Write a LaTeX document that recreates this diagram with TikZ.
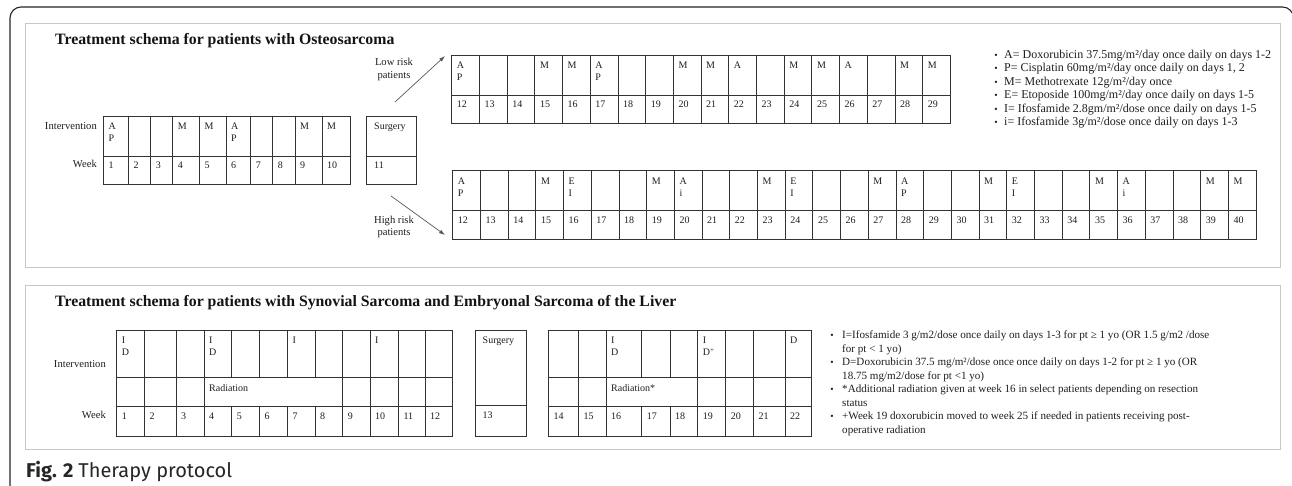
\documentclass[tikz,border=0pt]{standalone}
\usepackage{fontspec}
\setmainfont{Liberation Serif}
\newfontfamily\capfont{Fira Sans}
\usetikzlibrary{arrows.meta}
\tikzset{
  grid/.style={draw=black!80, line width=0.8pt},
  celltext/.style={anchor=north west, inner sep=0pt, align=left, text=black!88, font=\fontsize{10}{12}\selectfont},
  sidelabel/.style={anchor=east, inner sep=0pt, text=black!88, font=\fontsize{10.6}{12.5}\selectfont},
  risklabel/.style={inner sep=0pt, align=center, text=black!88, font=\fontsize{10.6}{12.7}\selectfont},
  panel/.style={draw=black!22, line width=0.9pt},
  frame/.style={draw=black!85, line width=1.1pt, rounded corners=11pt},
  titletext/.style={anchor=base west, inner sep=0pt, text=black!92, font=\bfseries\fontsize{15.8}{19}\selectfont},
  legtext/.style={anchor=base west, inner sep=0pt, text=black!88, font=\fontsize{12}{13.5}\selectfont},
  legtextb/.style={anchor=base west, inner sep=0pt, text=black!88, font=\fontsize{11.1}{13.5}\selectfont},
  legbullet/.style={anchor=base, inner sep=0pt, text=black!88, font=\fontsize{9.5}{10}\selectfont},
  riskarrow/.style={draw=black!65, line width=0.7pt, -{Latex[length=6pt,width=4pt]}},
}
\begin{document}
\begin{tikzpicture}[x=1pt,y=-1pt]
\useasboundingbox (0,0) rectangle (1292,486);
\fill[white] (0,0) rectangle (1292,486);
\draw[frame] (10,7) rectangle (1293.5,530);
\draw[panel] (25,23) rectangle (1280,267);
\draw[panel] (25,285) rectangle (1280,449);

% ---------- Osteosarcoma ----------
\node[titletext] (t1) at (55,44.5) {Treatment schema for patients with Osteosarcoma};

\node[sidelabel] (iv1) at (97,126) {Intervention};
\node[sidelabel] (wk1) at (97,164) {Week};

\draw[grid] (103.3,116) rectangle (350,184);
\draw[grid] (103.3,156) -- (350,156);
\foreach \x in {128.3,150.7,172.7,199.3,226,250.7,272.7,295,322}
  \draw[grid] (\x,116) -- (\x,184);
\foreach \x/\t [count=\i] in {103.3/{A\\P},172.7/M,199.3/M,226/{A\\P},295/M,322/M}
  \node[celltext] (ta\i) at (\x+5,123) {\t};
\foreach \x/\n in {103.3/1,128.3/2,150.7/3,172.7/4,199.3/5,226/6,250.7/7,272.7/8,295/9,322/10}
  \node[celltext] (tw\n) at (\x+5,162) {\n};

\draw[grid] (366,116) rectangle (416,184);
\draw[grid] (366,156) -- (416,156);
\node[celltext] (surg1) at (374,123) {Surgery};
\node[celltext] (w11) at (374,162) {11};

% arrows
\coordinate (lowA) at (395,102);
\coordinate (lowB) at (445,56);
\coordinate (highA) at (391,196);
\coordinate (highB) at (445,235);
\draw[riskarrow] (lowA) -- (lowB);
\draw[riskarrow] (highA) -- (highB);
\node[risklabel] (lowlab) at (394,69.5) {Low risk\\patients};
\node[risklabel] (highlab) at (394,227) {High risk\\patients};

% low risk table
\draw[grid] (451.7,55) rectangle (950.3,123);
\draw[grid] (451.7,95) -- (950.3,95);
\foreach \i in {1,...,17}
  \draw[grid] ({451.7+27.7*\i},55) -- ({451.7+27.7*\i},123);
\foreach \w in {12,...,29}
  \node[celltext] (lw\w) at ({451.7+27.7*(\w-12)+5},101) {\w};
\foreach \w/\t in {12/{A\\P},15/M,16/M,17/{A\\P},20/M,21/M,22/A,24/M,25/M,26/A,28/M,29/M}
  \node[celltext] (li\w) at ({451.7+27.7*(\w-12)+5},62) {\t};

% high risk table
\draw[grid] (452.7,170.7) rectangle (1256,239.3);
\draw[grid] (452.7,210.7) -- (1256,210.7);
\foreach \i in {1,...,28}
  \draw[grid] ({452.7+27.7*\i},170.7) -- ({452.7+27.7*\i},239.3);
\foreach \w in {12,...,40}
  \node[celltext] (hw\w) at ({452.7+27.7*(\w-12)+5},216.7) {\w};
\foreach \w/\t in {12/{A\\P},15/M,16/{E\\I},19/M,20/{A\\i},23/M,24/{E\\I},27/M,28/{A\\P},31/M,32/{E\\I},35/M,36/{A\\i},39/M,40/M}
  \node[celltext] (hi\w) at ({452.7+27.7*(\w-12)+5},177.7) {\t};

% legend top
\foreach \t [count=\i] in {
  {A= Doxorubicin 37.5mg/m²/day once daily on days 1-2},
  {P= Cisplatin 60mg/m²/day once daily on days 1, 2},
  {M= Methotrexate 12g/m²/day once},
  {E= Etoposide 100mg/m²/day once daily on days 1-5},
  {I= Ifosfamide 2.8gm/m²/dose once daily on days 1-5},
  {i= Ifosfamide 3g/m²/dose once daily on days 1-3}}
{
  \node[legbullet] (lb\i) at (996,{58.5+13.5*(\i-1)}) {•};
  \node[legtext] (lt\i) at (1004,{58.5+13.5*(\i-1)}) {\t};
}

% ---------- Synovial ----------
\node[titletext] (t2) at (55,306) {Treatment schema for patients with Synovial Sarcoma and Embryonal Sarcoma of the Liver};

\node[sidelabel] (iv2) at (106,364) {Intervention};
\node[sidelabel] (wk2) at (106,415) {Week};

\draw[grid] (116.7,330) rectangle (452.7,436);
\draw[grid] (116.7,377.3) -- (452.7,377.3);
\draw[grid] (116.7,406.7) -- (452.7,406.7);
\foreach \x in {144.3,176,204,342.7,370,398.3,425}
  \draw[grid] (\x,330) -- (\x,436);
\foreach \x in {231.7,259.3,287.3,315}
  \draw[grid] (\x,330) -- (\x,377.3) (\x,406.7) -- (\x,436);
\foreach \x/\t [count=\i] in {116.7/{I\\D},204/{I\\D},287.3/I,370/I}
  \node[celltext] (sa\i) at (\x+5,337) {\t};
\node[celltext] (rad1) at (209,384.3) {Radiation};
\foreach \x/\n in {116.7/1,144.3/2,176/3,204/4,231.7/5,259.3/6,287.3/7,315/8,342.7/9,370/10,398.3/11,425/12}
  \node[celltext] (sw\n) at (\x+5,412.7) {\n};

\draw[grid] (475.7,330) rectangle (526,436);
\draw[grid] (475.7,405.5) -- (526,405.5);
\node[celltext] (surg2) at (482.5,337) {Surgery};
\node[celltext] (w13) at (482.5,411.5) {13};

\draw[grid] (548.3,330) rectangle (811.7,436);
\draw[grid] (548.3,377) -- (811.7,377);
\draw[grid] (548.3,406.2) -- (811.7,406.2);
\foreach \x in {578.3,606,697.7,725.7,753.3,785}
  \draw[grid] (\x,330) -- (\x,436);
\foreach \x in {641.7,670}
  \draw[grid] (\x,330) -- (\x,377) (\x,406.2) -- (\x,436);
\node[celltext] (sb1) at (611,337) {I\\D};
\node[celltext] (sb2) at (702.7,337) {I\\D\textsuperscript{+}};
\node[celltext] (sb3) at (790,337) {D};
\node[celltext] (rad2) at (611,384) {Radiation*};
\foreach \x/\n in {548.3/14,578.3/15,606/16,641.7/17,670/18,697.7/19,725.7/20,753.3/21,785/22}
  \node[celltext] (sw\n) at (\x+5,412.2) {\n};

% legend bottom
\node[legbullet] (bb1) at (832,338.5) {•};
\node[legtextb] (bt1) at (842,338.5) {I=Ifosfamide 3 g/m2/dose once daily on days 1-3 for pt ≥ 1 yo (OR 1.5 g/m2 /dose};
\node[legtextb] (bt1b) at (842,352) {for pt < 1 yo)};
\node[legbullet] (bb2) at (832,365.5) {•};
\node[legtextb] (bt2) at (842,365.5) {D=Doxorubicin 37.5 mg/m²/dose once once daily on days 1-2 for pt ≥ 1 yo (OR};
\node[legtextb] (bt2b) at (842,379) {18.75 mg/m2/dose for pt <1 yo)};
\node[legbullet] (bb3) at (832,392.5) {•};
\node[legtextb] (bt3) at (842,392.5) {*Additional radiation given at week 16 in select patients depending on resection};
\node[legtextb] (bt3b) at (842,406) {status};
\node[legbullet] (bb4) at (832,419.5) {•};
\node[legtextb] (bt4) at (842,419.5) {+Week 19 doxorubicin moved to week 25 if needed in patients receiving post-};
\node[legtextb] (bt4b) at (842,433) {operative radiation};

% caption
\node[anchor=base west, inner sep=0pt, text=black!85, font=\capfont\fontsize{20}{24}\selectfont] (cap) at (26,477) {\textbf{Fig. 2}\hspace{5pt}Therapy protocol};
\end{tikzpicture}
\end{document}
